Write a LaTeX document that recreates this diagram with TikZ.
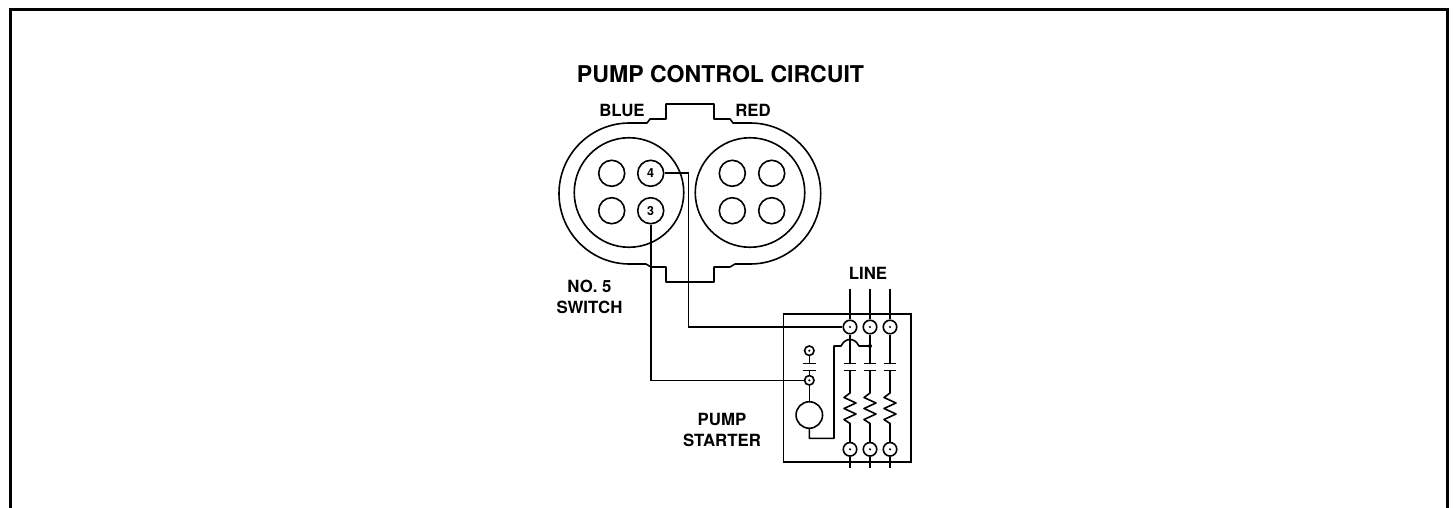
\documentclass[tikz,border=0pt]{standalone}
\usepackage{fontspec}
\setmainfont{TeX Gyre Heros}
\tikzset{
  wire/.style={line width=1.6pt},
  pin/.style={circle,draw,line width=1.6pt,minimum size=26pt,inner sep=0pt,font=\bfseries\fontsize{12.5}{14}\selectfont},
  terminal/.style={circle,draw,line width=1.6pt,minimum size=13.5pt,inner sep=0pt},
  smallterminal/.style={circle,draw,line width=1.6pt,minimum size=9.5pt,inner sep=0pt},
  lab/.style={align=center,font=\bfseries\fontsize{16.8}{20.5}\selectfont}
}
\newcommand\TermDot[1]{
  \fill (#1) circle [radius=1.2];
}
\newcommand\Coil[2]{
  \draw[wire,line join=round] (#1,370.3)--(#1,393)--
  ++(-6,4.5)--++(12,5.5)--++(-12,5.5)--++(12,5.5)--++(-12,5.5)--++(6,4)--(#2.north);
}
\begin{document}
\begin{tikzpicture}[x=1pt, y=-1pt]
\useasboundingbox (0,0) rectangle (1454,508);
\draw[line width=3pt] (10.5,508)--(10.5,9.5)--(1447.5,9.5)--(1447.5,508);

\node[font=\bfseries\fontsize{23.1}{26}\selectfont] (title) at (720.5,74) {PUMP CONTROL CIRCUIT};
\node[lab] (blue) at (622,110) {BLUE};
\node[lab] (red) at (753,110) {RED};
\node[lab] (line) at (868,273) {LINE};
\node[lab] (switch) at (589.5,297) {NO. 5\\SWITCH};
\node[lab] (starter) at (722,430) {PUMP\\STARTER};

% switch body
\draw[wire,line join=round] (666,119)--(666,104)--(714,104)--(714,119)--(730,119)--(733,123)--
  (750.2,123) arc[start angle=-90,end angle=90,radius=70.5]--
  (735,264)--(730,267)--(714,267)--(714,282)--(666,282)--(666,267)--(651,267)--(646,264)--
  (629.5,264) arc[start angle=90,end angle=270,radius=70.5]--
  (647,123)--(650,119)--cycle;
\node[circle,draw,line width=1.6pt,minimum size=109.5pt] (blueface) at (629,192.5) {};
\node[circle,draw,line width=1.6pt,minimum size=109.5pt] (redface) at (750,192.5) {};

\node[pin] (b1) at (611.7,173.3) {};
\node[pin] (b4) at (650.7,173.3) {4};
\node[pin] (b2) at (611.7,210.7) {};
\node[pin] (b3) at (650.7,210.7) {3};
\foreach \x/\n in {732.3/a,771.7/b}
{
  \node[pin] (r\n1) at (\x,173.3) {};
  \node[pin] (r\n2) at (\x,210.7) {};
}

% starter
\draw[wire] (783.3,314) rectangle (911,461.7);
\foreach \x/\n in {850/1,870/2,890/3}
{
  \node[terminal] (top\n) at (\x,327) {};
  \node[terminal] (bot\n) at (\x,449.3) {};
  \TermDot{top\n}
  \TermDot{bot\n}
  \draw[wire] (top\n.north)--(\x,289);
  \draw[wire] (bot\n.south)--(\x,468);
  \draw[wire] (top\n.south)--(\x,363.3);
  \draw[wire] (\x-6.2,363.3)--(\x+6.2,363.3);
  \draw[wire] (\x-6.2,370.3)--(\x+6.2,370.3);
  \Coil{\x}{bot\n}
}
\node[smallterminal] (aux1) at (809.3,350.7) {};
\node[smallterminal] (aux2) at (809.3,380.3) {};
\TermDot{aux1}
\TermDot{aux2}
\draw[wire] (aux1.south)--(809.3,363.3);
\draw[wire] (803.1,363.3)--(815.5,363.3);
\draw[wire] (803.1,370.3)--(815.5,370.3);
\draw[wire] (809.3,370.3)--(aux2.north);
\node[circle,draw,line width=1.6pt,minimum size=26.5pt,inner sep=0pt] (motor) at (809.3,415) {};
\draw[wire] (aux2.south)--(motor.north);

\coordinate (tap) at (870,346);
\fill (tap) circle [radius=2];
\draw[wire,line join=round] (motor.south)--(809.3,438.3)--(834,438.3)--(834,346)--(841,346)
  to[out=60,in=180] (850,339.5) to[out=0,in=120] (859,346)--(tap);

% wires from switch
\draw[wire] (b4.east)--(688.5,173.3)|-(top1.west);
\draw[wire] (b3.south)|-(aux2.west);
\end{tikzpicture}
\end{document}
